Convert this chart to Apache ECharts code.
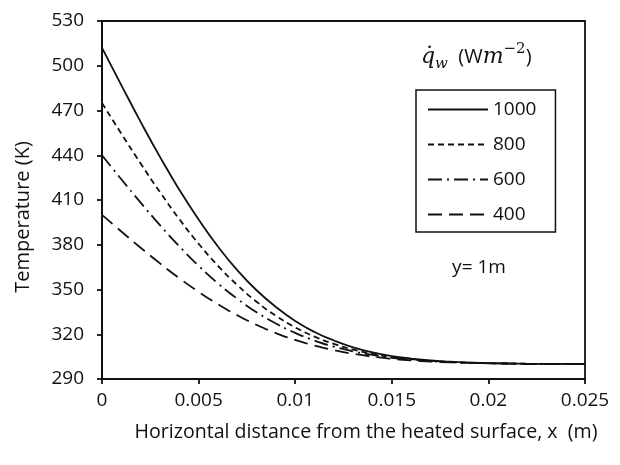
<!DOCTYPE html>
<html>
<head>
    <meta charset="utf-8">
    <title>Temperature profile</title>
    <style>
        html, body { margin: 0; padding: 0; background: #fff; }
        #chart { width: 620px; height: 465px; }
    </style>
</head>
<body>
<div id="chart"></div>
<script src="https://cdn.jsdelivr.net/npm/echarts@6/dist/echarts.min.js"></script>
<script>
    // horizontal distance (m)
    var xDist = [0, 0.001, 0.002, 0.003, 0.004, 0.005, 0.006, 0.007, 0.008, 0.009,
        0.010, 0.011, 0.012, 0.013, 0.014, 0.015, 0.016, 0.017, 0.018, 0.019,
        0.020, 0.021, 0.022, 0.023, 0.024, 0.025];
    // temperature (K) for each wall heat flux
    var t1000 = [512, 487.0, 462.4, 438.9, 416.9, 396.9, 378.8, 363.0, 349.5, 338.3,
        328.9, 321.5, 315.8, 311.2, 307.9, 305.4, 303.7, 302.4, 301.6, 301.0,
        300.6, 300.4, 300.2, 300.1, 300.1, 300.0];
    var t800 = [475, 454.5, 434.5, 415.3, 397.2, 380.7, 365.9, 353.0, 341.8, 332.4,
        324.6, 318.4, 313.5, 309.7, 306.9, 304.8, 303.3, 302.2, 301.4, 300.9,
        300.6, 300.4, 300.2, 300.1, 300.1, 300.0];
    var t600 = [440, 423.9, 408.2, 393.1, 379.0, 365.9, 354.1, 343.8, 334.8, 327.2,
        320.9, 315.8, 311.7, 308.5, 306.1, 304.2, 302.9, 302.0, 301.3, 300.9,
        300.6, 300.4, 300.2, 300.1, 300.1, 300.0];
    var t400 = [400, 388.9, 378.0, 367.5, 357.6, 348.4, 340.1, 332.7, 326.3, 320.8,
        316.2, 312.4, 309.3, 306.9, 305.0, 303.6, 302.5, 301.7, 301.2, 300.8,
        300.5, 300.3, 300.2, 300.1, 300.1, 300.0];
    var seriesNames = ['1000', '800', '600', '400'];

    var font = '"Open Sans", "Noto Sans", sans-serif';
    var serif = '"DejaVu Serif", serif';
    var ink = '#111';

    function pairs(xs, ys) {
        var out = [];
        for (var i = 0; i < xs.length; i++) {
            out.push([xs[i], ys[i]]);
        }
        return out;
    }

    function makeLine(name, ys, dash) {
        return {
            name: name,
            type: 'line',
            data: pairs(xDist, ys),
            smooth: true,
            symbol: 'none',
            itemStyle: { color: ink },
            lineStyle: { color: ink, width: 1.8, type: dash }
        };
    }

    var chart = echarts.init(document.getElementById('chart'));
    chart.setOption({
        animation: false,
        backgroundColor: '#fff',
        grid: {
            left: 102, right: 35, top: 21, bottom: 86,
            show: true, borderColor: ink, borderWidth: 1.8
        },
        legend: {
            orient: 'vertical',
            left: 416, top: 90,
            padding: [10, 19, 8, 11],
            borderColor: ink, borderWidth: 1.5,
            itemWidth: 60, itemHeight: 14, itemGap: 16,
            data: seriesNames,
            itemStyle: { opacity: 0 },
            textStyle: { fontFamily: font, fontSize: 19, color: ink }
        },
        xAxis: {
            type: 'value',
            min: 0, max: 0.025, interval: 0.005,
            axisLine: { lineStyle: { color: ink, width: 1.8 } },
            axisTick: { show: true, length: 5, lineStyle: { color: ink, width: 1.8 } },
            splitLine: { show: false },
            axisLabel: {
                margin: 12, color: ink, fontFamily: font, fontSize: 19,
                formatter: function (v) { return String(+v.toFixed(3)); }
            }
        },
        yAxis: {
            type: 'value',
            min: 290, max: 530, interval: 30,
            axisLine: { show: true, lineStyle: { color: ink, width: 1.8 } },
            axisTick: { show: true, length: 5, lineStyle: { color: ink, width: 1.8 } },
            splitLine: { show: false },
            axisLabel: { margin: 18, color: ink, fontFamily: font, fontSize: 19 }
        },
        graphic: [
            {
                type: 'text', x: 23, y: 217, rotation: Math.PI / 2,
                style: {
                    text: 'Temperature (K)', align: 'center', verticalAlign: 'middle',
                    fontFamily: font, fontSize: 20, fill: ink
                }
            },
            {
                type: 'text', x: 366, y: 432,
                style: {
                    text: 'Horizontal distance from the heated surface, x  (m)',
                    align: 'center', verticalAlign: 'middle',
                    fontFamily: font, fontSize: 19.6, fill: ink
                }
            },
            {
                type: 'text', x: 479, y: 268,
                style: {
                    text: 'y= 1m', align: 'center', verticalAlign: 'middle',
                    fontFamily: font, fontSize: 19, fill: ink
                }
            },
            {
                type: 'text', x: 421, y: 57,
                style: {
                    text: '{q|q\u0307}{w|w}{n|\u00a0\u00a0(W}{m|m}{e|\u22122}{n|)}',
                    align: 'left', verticalAlign: 'middle',
                    fill: ink,
                    rich: {
                        q: { fontFamily: serif, fontStyle: 'italic', fontSize: 22, lineHeight: 30 },
                        w: { fontFamily: serif, fontStyle: 'italic', fontSize: 15, lineHeight: 20, verticalAlign: 'bottom' },
                        n: { fontFamily: font, fontSize: 20, lineHeight: 30 },
                        m: { fontFamily: serif, fontStyle: 'italic', fontSize: 22, lineHeight: 30 },
                        e: { fontFamily: serif, fontSize: 15, lineHeight: 12, verticalAlign: 'top' }
                    }
                }
            }
        ],
        series: [
            makeLine(seriesNames[0], t1000, 'solid'),
            makeLine(seriesNames[1], t800, [6, 4]),
            makeLine(seriesNames[2], t600, [14, 5, 2, 5]),
            makeLine(seriesNames[3], t400, [14, 7])
        ]
    });
</script>
</body>
</html>
